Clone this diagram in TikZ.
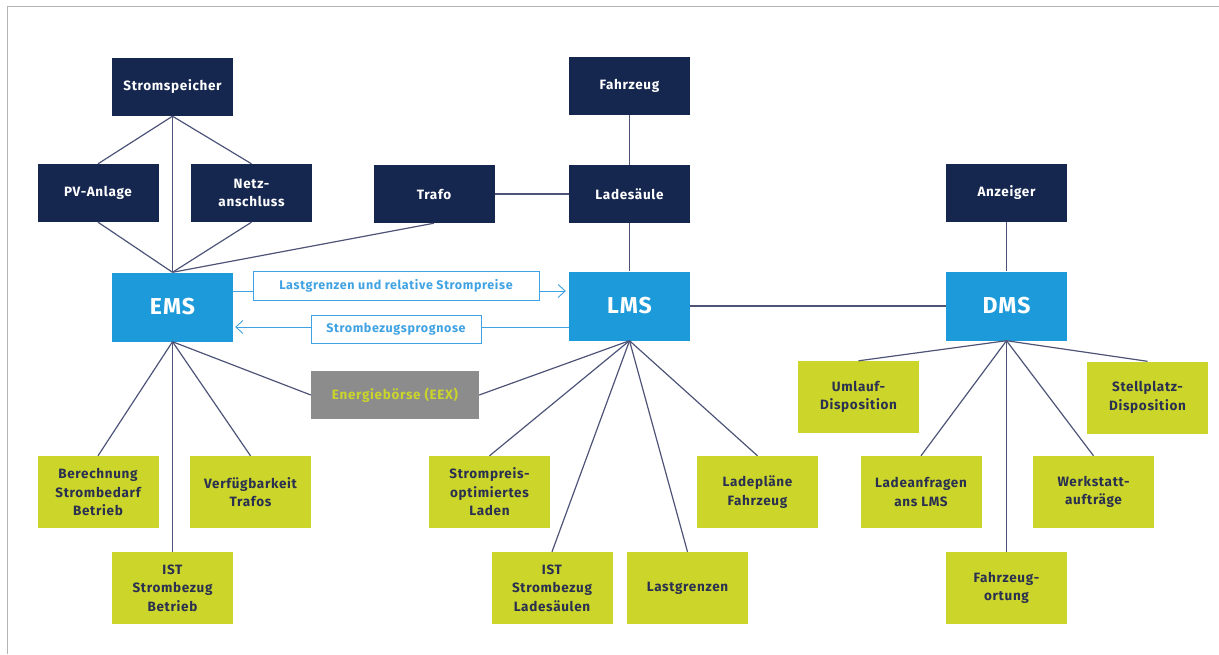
\documentclass[tikz,border=0pt]{standalone}
\usepackage{fontspec}
\setmainfont{Fira Sans}[LetterSpace=5]
\usetikzlibrary{arrows.meta}
\definecolor{navy}{HTML}{15264F}
\definecolor{sysblue}{HTML}{1C9AD9}
\definecolor{lime}{HTML}{CCD52A}
\definecolor{lbl}{HTML}{3FA2E2}
\definecolor{conn}{HTML}{4E5478}
\definecolor{txtdark}{HTML}{2A3050}
\definecolor{eexgray}{HTML}{8C8C8C}
\definecolor{eextext}{HTML}{CAD52C}
\definecolor{frame}{HTML}{B4B4B4}
\tikzset{
  base/.style={inner sep=0pt, align=center, minimum width=121pt, font=\fontsize{13.5}{18.5}\selectfont\bfseries},
  navybox/.style={base, fill=navy, text=white, minimum height=58pt},
  sysbox/.style={base, fill=sysblue, text=white, minimum height=69pt, font=\fontsize{23}{26}\selectfont\bfseries},
  limebox/.style={base, fill=lime, text=txtdark, minimum height=72pt},
  eexbox/.style={base, fill=eexgray, text=eextext, minimum width=168pt, minimum height=48pt},
  lblbox/.style={draw=lbl, line width=0.9pt, fill=white, text=lbl, inner sep=0pt, font=\fontsize{12.5}{14}\selectfont\bfseries},
  conn/.style={draw=conn, line width=1.2pt},
  flow/.style={draw=lbl, line width=0.9pt, -{Straight Barb[length=7pt,width=13pt]}},
}
\begin{document}
\begin{tikzpicture}[x=1pt,y=-1pt]
\useasboundingbox (0,0) rectangle (1219,654);
\draw[frame, line width=1.6pt] (7.5,654) -- (7.5,6.5) -- (1219,6.5);

% top (navy) nodes
\node[navybox] (spei) at (172.5,87) {Stromspeicher};
\node[navybox] (pv) at (98,193) {PV-Anlage};
\node[navybox] (netz) at (251.5,193) {Netz-\\anschluss};
\node[navybox] (trafo) at (434,194) {Trafo};
\node[navybox] (fzg) at (629.5,86) {Fahrzeug};
\node[navybox] (lade) at (629.5,194) {Ladesäule};
\node[navybox] (anz) at (1006.5,193) {Anzeiger};

% systems
\node[sysbox] (ems) at (172.5,307) {EMS};
\node[sysbox] (lms) at (629.5,306) {LMS};
\node[sysbox] (dms) at (1006.5,306) {DMS};

% EEX
\node[eexbox] (eex) at (395,395) {Energiebörse (EEX)};

% EMS children
\node[limebox] (ber) at (98,492) {Berechnung\\Strombedarf\\Betrieb};
\node[limebox] (verf) at (250.5,492) {Verfügbarkeit\\Trafos};
\node[limebox] (istb) at (172.5,588) {IST\\Strombezug\\Betrieb};

% LMS children
\node[limebox] (spo) at (489.5,492) {Strompreis-\\optimiertes\\Laden};
\node[limebox] (istl) at (552,588) {IST\\Strombezug\\Ladesäulen};
\node[limebox] (lastg) at (687.5,588) {Lastgrenzen};
\node[limebox] (lplan) at (757.5,492) {Ladepläne\\Fahrzeug};

% DMS children
\node[limebox] (uml) at (858.5,397) {Umlauf-\\Disposition};
\node[limebox] (stell) at (1147.5,397.5) {Stellplatz-\\Disposition};
\node[limebox] (ladan) at (921,492) {Ladeanfragen\\ans LMS};
\node[limebox] (werk) at (1093.5,492) {Werkstatt-\\aufträge};
\node[limebox] (ort) at (1006.5,588) {Fahrzeug-\\ortung};

% connectors top
\draw[conn] (spei.south) -- (pv.north);
\draw[conn] (spei.south) -- (netz.north);
\draw[conn] (spei.south) -- (ems.north);
\draw[conn] (pv.south) -- (ems.north);
\draw[conn] (netz.south) -- (ems.north);
\draw[conn] (trafo.south) -- (ems.north);
\draw[conn] (trafo.east) -- (lade.west);
\draw[conn] (fzg.south) -- (lade.north);
\draw[conn] (lade.south) -- (lms.north);
\draw[conn] (lms.east) -- (dms.west);
\draw[conn] (anz.south) -- (dms.north);

% connectors bottom
\draw[conn] (ems.south) -- (ber.north);
\draw[conn] (ems.south) -- (verf.north);
\draw[conn] (ems.south) -- (istb.north);
\draw[conn] (ems.south) -- (eex.west);
\draw[conn] (lms.south) -- (eex.east);
\draw[conn] (lms.south) -- (spo.north);
\draw[conn] (lms.south) -- (istl.north);
\draw[conn] (lms.south) -- (lastg.north);
\draw[conn] (lms.south) -- (lplan.north);
\draw[conn] (dms.south) -- (uml.north);
\draw[conn] (dms.south) -- (stell.north);
\draw[conn] (dms.south) -- (ladan.north);
\draw[conn] (dms.south) -- (werk.north);
\draw[conn] (dms.south) -- (ort.north);

% information flows
\coordinate (f1) at (0,291);
\coordinate (f2) at (0,327);
\draw[flow, shorten >=3pt] (ems.east |- f1) -- (lms.west |- f1);
\draw[flow, shorten >=2pt] (lms.west |- f2) -- (ems.east |- f2);
\node[lblbox, minimum width=286pt, minimum height=29pt] (l1) at (396,285.5) {Lastgrenzen und relative Strompreise};
\node[lblbox, minimum width=170pt, minimum height=28pt] (l2) at (396,329) {Strombezugsprognose};
\end{tikzpicture}
\end{document}
